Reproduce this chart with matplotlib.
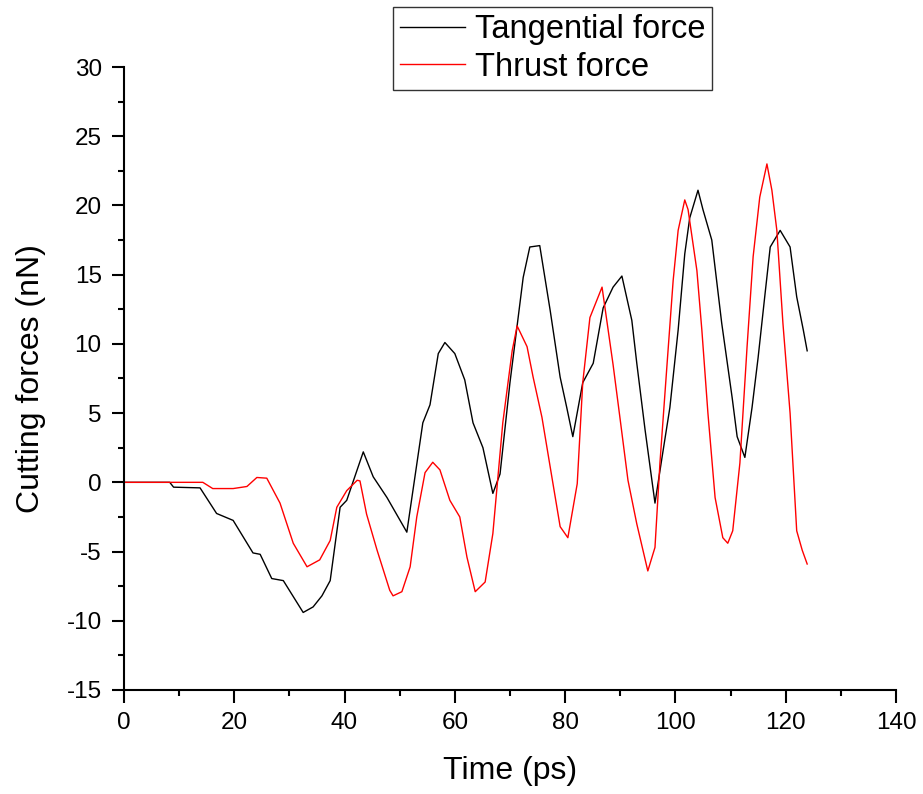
import matplotlib
matplotlib.use("Agg")
import matplotlib.pyplot as plt
from matplotlib.ticker import MultipleLocator

# values
tang_t = [0, 8.3, 9.0, 13.8, 16.8, 19.8, 23.4, 24.7, 26.8, 28.9, 32.5, 34.3, 35.9, 37.4,
          39.2, 40.4, 43.4, 45.2, 47.7, 51.3, 54.2, 55.5, 57.0, 58.2, 60.0, 61.8, 63.3,
          65.1, 66.9, 68.2, 70.0, 72.4, 73.6, 75.4, 77.3, 79.1, 80.3, 81.4, 83.2, 85.1,
          86.9, 88.7, 90.3, 92.1, 93.0, 94.5, 96.3, 97.5, 99.0, 100.5, 101.7, 102.6,
          104.1, 105.0, 106.6, 108.4, 110.3, 111.2, 112.6, 113.9, 115.0, 116.2, 117.2,
          119.0, 120.8, 122.0, 123.2, 123.9]
tang_f = [0, 0, -0.35, -0.4, -2.25, -2.75, -5.1, -5.2, -6.95, -7.1, -9.4, -9.0, -8.2, -7.1,
          -1.8, -1.3, 2.2, 0.4, -1.1, -3.6, 4.3, 5.6, 9.3, 10.1, 9.3, 7.4, 4.3,
          2.5, -0.8, 0.6, 7.2, 14.8, 17.0, 17.1, 12.4, 7.6, 5.4, 3.3, 7.2, 8.6,
          12.6, 14.1, 14.9, 11.7, 8.6, 3.8, -1.5, 1.6, 5.4, 11.0, 16.5, 19.1,
          21.1, 19.7, 17.5, 11.5, 6.1, 3.3, 1.8, 5.4, 9.0, 13.4, 17.0,
          18.2, 17.0, 13.4, 11.0, 9.5]

thrust_t = [0, 14.3, 16.1, 19.8, 22.3, 24.1, 25.9, 28.3, 30.7, 33.2, 35.5, 37.4, 38.6,
            40.4, 42.3, 42.8, 44.0, 45.9, 48.2, 48.8, 50.4, 51.9, 53.1, 54.6, 56.0, 57.3,
            59.1, 60.9, 62.2, 63.7, 65.5, 66.9, 68.7, 70.4, 71.3, 73.1, 74.2, 75.8, 77.3,
            79.1, 80.5, 82.2, 83.2, 84.5, 86.7, 88.7, 90.0, 91.4, 93.0, 95.0, 96.3, 97.2,
            98.5, 99.6, 100.5, 101.7, 102.3, 103.9, 104.8, 105.9, 107.2, 108.6, 109.5,
            110.4, 111.7, 113.0, 114.1, 115.3, 116.6, 117.5, 118.4, 119.5, 120.8, 122.0,
            123.0, 123.9]
thrust_f = [0, 0, -0.45, -0.45, -0.3, 0.35, 0.3, -1.5, -4.4, -6.1, -5.6, -4.2, -1.8,
            -0.6, 0.15, 0.1, -2.3, -4.9, -7.8, -8.2, -7.9, -6.1, -2.5, 0.7, 1.45, 0.9,
            -1.3, -2.5, -5.4, -7.9, -7.2, -3.7, 4.3, 9.5, 11.3, 9.8, 7.6, 4.7, 1.1,
            -3.2, -4.0, -0.1, 7.2, 11.9, 14.1, 8.5, 4.5, 0.15, -3.0, -6.4, -4.7, 1.4,
            8.6, 14.6, 18.2, 20.4, 19.7, 15.3, 11.0, 5.0, -1.1, -4.0, -4.4,
            -3.5, 1.4, 9.8, 16.3, 20.6, 23.0, 21.1, 18.2, 11.5, 5.0, -3.5,
            -4.9, -5.9]

plt.rcParams['font.family'] = ['Liberation Sans', 'DejaVu Sans']
plt.rcParams['axes.unicode_minus'] = False

fig = plt.figure(figsize=(9.23, 7.94), dpi=100)
ax = fig.add_axes([0.1343, 0.131, 0.8364, 0.7846])

ax.plot(tang_t, tang_f, color='black', lw=1.0, label='Tangential force')
ax.plot(thrust_t, thrust_f, color='red', lw=1.0, label='Thrust force')

ax.set_xlim(0, 140)
ax.set_ylim(-15, 30)
ax.xaxis.set_major_locator(MultipleLocator(20))
ax.xaxis.set_minor_locator(MultipleLocator(10))
ax.yaxis.set_major_locator(MultipleLocator(5))
ax.yaxis.set_minor_locator(MultipleLocator(2.5))

for s in ['top', 'right']:
    ax.spines[s].set_visible(False)
for s in ['left', 'bottom']:
    ax.spines[s].set_linewidth(1.5)
ax.tick_params(which='major', direction='out', length=9, width=1.5, labelsize=17.5)
ax.tick_params(axis='x', which='major', pad=7)
ax.tick_params(axis='y', which='major', pad=7)
ax.tick_params(which='minor', direction='out', length=4.5, width=1.5)

ax.set_xlabel('Time (ps)', fontsize=23, labelpad=16)
ax.set_ylabel('Cutting forces (nN)', fontsize=23, labelpad=15)

leg = ax.legend(loc='upper left', bbox_to_anchor=(393 / 923, 1 - 7 / 794),
                bbox_transform=fig.transFigure, fontsize=23.5, frameon=True,
                fancybox=False, handlelength=2.0, borderpad=0.22, labelspacing=0.2,
                handletextpad=0.28, borderaxespad=0)
leg.get_frame().set_edgecolor('black')
leg.get_frame().set_linewidth(1.0)

fig.savefig('out.png', dpi=100)
